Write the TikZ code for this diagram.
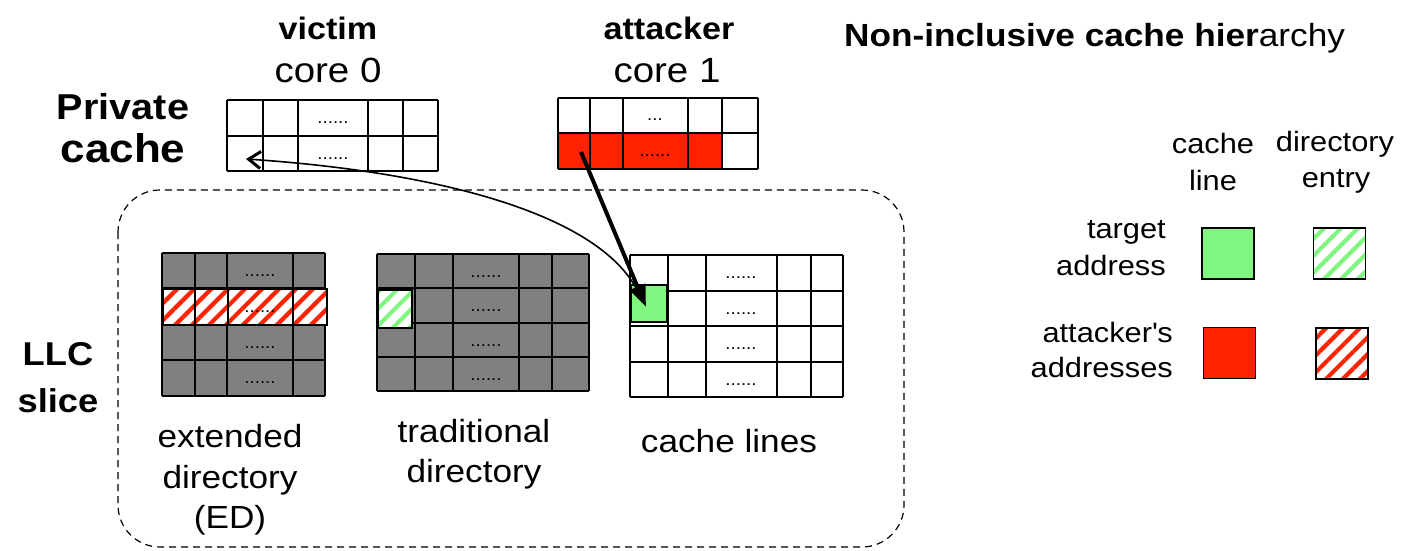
\documentclass[tikz,border=0pt]{standalone}
\usepackage{fontspec}
\setmainfont[FakeStretch=1.1]{Liberation Sans}
\usetikzlibrary{arrows.meta,patterns.meta}

\definecolor{hitred}{RGB}{255,34,0}
\definecolor{hitgreen}{RGB}{128,245,128}
\definecolor{dirgray}{RGB}{128,128,128}

\tikzset{
  gridline/.style={line width=1.8pt, draw=black},
  dotsep/.style={inner sep=0pt, font=\fontsize{17}{17}\selectfont},
  redhatch/.style={preaction={fill=white}, pattern={Lines[angle=45,distance=12pt,line width=4.2pt]}, pattern color=hitred},
  greenhatch/.style={preaction={fill=white}, pattern={Lines[angle=45,distance=12pt,line width=4.2pt]}, pattern color=hitgreen},
  boldlbl/.style={anchor=base, inner sep=0pt, font=\fontsize{31}{31}\selectfont\bfseries},
  corelbl/.style={anchor=base, inner sep=0pt, font=\fontsize{35}{35}\selectfont},
  sidelbl/.style={anchor=base, inner sep=0pt, font=\fontsize{33}{33}\selectfont\bfseries},
  caplbl/.style={anchor=base, inner sep=0pt, font=\fontsize{32}{32}\selectfont},
  leglbl/.style={anchor=base, inner sep=0pt, font=\fontsize{28}{28}\selectfont},
  legbox/.style={draw=black, line width=1.4pt, minimum width=52pt, minimum height=51pt, inner sep=0pt},
}

\begin{document}
\begin{tikzpicture}[x=1pt,y=-1pt]
\path[use as bounding box, fill=white] (0,0) rectangle (1401,551);

% ---------- headings ----------
\node[boldlbl] (victim) at (328,40) {victim};
\node[corelbl] (core0) at (328,83) {core 0};
\node[boldlbl] (attacker) at (669,40) {attacker};
\node[corelbl] (core1) at (667,83) {core 1};
\node[anchor=base west, inner sep=0pt, font=\fontsize{32}{32}\selectfont] (title) at (844,47)
  {\textbf{Non-inclusive cache hier}archy};

\node[sidelbl, font=\fontsize{36}{36}\selectfont\bfseries] (priv1) at (123,119) {Private};
\node[sidelbl, font=\fontsize{40}{40}\selectfont\bfseries] (priv2) at (123,162) {cache};
\node[sidelbl] (llc1) at (58,365) {LLC};
\node[sidelbl] (llc2) at (58,412) {slice};

% ---------- private cache of the victim core ----------
\foreach \x in {227,263,298,368,403,438} \draw[gridline] (\x,100) -- (\x,171);
\foreach \y in {100,136,171} \draw[gridline] (227,\y) -- (438,\y);
\node[dotsep] at (333,123) {......};
\node[dotsep] at (333,159) {......};
\coordinate (vtip) at (246,159);

% ---------- private cache of the attacker core ----------
\fill[hitred] (558,133) rectangle (722,169);
\foreach \x in {558,590,623,688,722,758} \draw[gridline] (\x,98) -- (\x,169);
\foreach \y in {98,133,169} \draw[gridline] (558,\y) -- (758,\y);
\node[dotsep] at (655,120) {...};
\node[dotsep] at (655,156) {......};
\coordinate (aline) at (581,152);

% ---------- LLC slice ----------
\draw[dashed, dash pattern=on 7pt off 5pt, line width=1.2pt, rounded corners=42pt]
  (118,190) rectangle (904,547);

% extended directory
\fill[dirgray] (162,253) rectangle (325,396);
\foreach \x in {162,195,227,293,325} \draw[gridline] (\x,253) -- (\x,396);
\foreach \y in {253,288,325,360,396} \draw[gridline] (162,\y) -- (325,\y);
\foreach \l/\r in {163/195,195/228,228/293,293/327}
  \draw[gridline, redhatch] (\l,289) rectangle (\r,325);
\foreach \y in {276,312,348,383} \node[dotsep] at (260,\y) {......};

% traditional directory
\fill[dirgray] (377,254) rectangle (589,391);
\foreach \x in {377,415,453,519,552,589} \draw[gridline] (\x,254) -- (\x,391);
\foreach \y in {254,288,323,357,391} \draw[gridline] (377,\y) -- (589,\y);
\draw[line width=1.2pt, greenhatch] (378,290) rectangle (412,328);
\foreach \y in {277,311,346,380} \node[dotsep] at (486,\y) {......};

% cache lines
\foreach \x in {630,668,706,777,811,843} \draw[gridline] (\x,255) -- (\x,397);
\foreach \y in {255,291,326,362,397} \draw[gridline] (630,\y) -- (843,\y);
\draw[line width=1.2pt, fill=hitgreen] (631,285) rectangle (667,322);
\foreach \y in {278,314,349,385} \node[dotsep] at (741,\y) {......};
\coordinate (gsrc) at (640,296);
\coordinate (gtip) at (646,307);

% structure names
\node[caplbl] (ed1) at (230,447) {extended};
\node[caplbl] (ed2) at (230,488) {directory};
\node[caplbl] (ed3) at (230,528) {(ED)};
\node[caplbl] (td1) at (474,442) {traditional};
\node[caplbl] (td2) at (474,482) {directory};
\node[caplbl] (cl1) at (729,452) {cache lines};

% ---------- arrows ----------
\draw[line width=4pt, -{Triangle[length=22pt,width=16pt]}] (aline) -- (gtip);
\draw[line width=1.6pt, -{Straight Barb[length=12pt,width=17pt,line width=3pt]}]
  (gsrc) .. controls (605,215) and (440,172) .. (vtip);

% ---------- legend ----------
\node[leglbl] (lg1) at (1213,153) {cache};
\node[leglbl] (lg2) at (1213,190) {line};
\node[leglbl] (lg3) at (1335,151) {directory};
\node[leglbl] (lg4) at (1336,187) {entry};
\node[leglbl, anchor=base east] (lg5) at (1166,238) {target};
\node[leglbl, anchor=base east] (lg6) at (1166,275) {address};
\node[leglbl, anchor=base east] (lg7) at (1173,342) {attacker\textquotesingle s};
\node[leglbl, anchor=base east] (lg8) at (1173,377) {addresses};

\node[legbox, fill=hitgreen] (sqg) at (1228,253.5) {};
\node[legbox, greenhatch] (sqgh) at (1339.5,253.5) {};
\node[legbox, fill=hitred] (sqr) at (1229.5,353) {};
\node[legbox, redhatch] (sqrh) at (1342,353.5) {};
\end{tikzpicture}
\end{document}
